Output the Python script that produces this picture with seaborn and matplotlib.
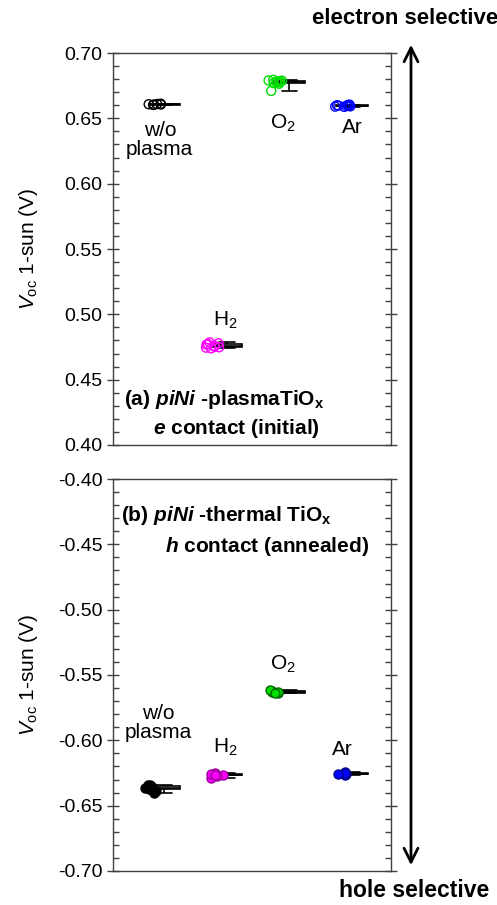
import numpy as np
import pandas as pd
import matplotlib
matplotlib.use("Agg")
import matplotlib.pyplot as plt
import seaborn as sns

# ---------------- data ----------------
groups = ["w/o plasma", "H2", "O2", "Ar"]
group_labels = ["w/o\nplasma", "H$_2$", "O$_2$", "Ar"]
colors = ["#000000", "#FF00FF", "#00DD00", "#0000FF"]
edge_dark = ["#000000", "#990099", "#006600", "#000088"]

# (a) piNi - plasma TiOx, e contact (initial)  [V]
top_wo = [0.6605, 0.6610, 0.6608, 0.6603, 0.6612, 0.6606]
top_h2 = [0.4772, 0.4785, 0.4768, 0.4760, 0.4745, 0.4752, 0.4778, 0.4740, 0.4748]
top_o2 = [0.6785, 0.6790, 0.6778, 0.6795, 0.6782, 0.6770, 0.6788, 0.6775, 0.6710, 0.6765]
top_ar = [0.6595, 0.6600, 0.6590, 0.6598, 0.6605, 0.6592, 0.6588, 0.6596, 0.6602]

# (b) piNi - thermal TiOx, h contact (annealed)  [V]
bot_wo = [-0.6340, -0.6365, -0.6385, -0.6405, -0.6375, -0.6355, -0.6350, -0.6360, -0.6345, -0.6370]
bot_h2 = [-0.6250, -0.6262, -0.6270, -0.6285, -0.6255, -0.6265]
bot_o2 = [-0.5620, -0.5632, -0.5640, -0.5615, -0.5628, -0.5635]
bot_ar = [-0.6245, -0.6255, -0.6262, -0.6250, -0.6258]

top_ticks = [0.40, 0.45, 0.50, 0.55, 0.60, 0.65, 0.70]
bot_ticks = [-0.70, -0.65, -0.60, -0.55, -0.50, -0.45, -0.40]

# ---------------- style ----------------
sns.set_style("ticks")
plt.rcParams["font.family"] = ["Liberation Sans", "DejaVu Sans"]
plt.rcParams["font.size"] = 15
plt.rcParams["text.color"] = "black"
plt.rcParams["axes.labelcolor"] = "black"
plt.rcParams["axes.unicode_minus"] = False
plt.rcParams["mathtext.fontset"] = "custom"
plt.rcParams["mathtext.rm"] = "Liberation Sans"
plt.rcParams["mathtext.it"] = "Liberation Sans:italic"
plt.rcParams["mathtext.bf"] = "Liberation Sans:bold"
try:
    plt.rcParams["mathtext.bfit"] = "Liberation Sans:bold:italic"
except KeyError:
    pass

np.random.seed(3)

positions = [1, 2, 3, 4]
strip_off = -0.08
box_off = 0.10


def make_df(series):
    rows = []
    for g, p, vals in zip(groups, positions, series):
        for v in vals:
            rows.append({"group": g, "pos": p + strip_off, "bpos": p + box_off, "v": v})
    return pd.DataFrame(rows)


fig = plt.figure(figsize=(4.97, 9.05), dpi=100)
ax1 = fig.add_axes([0.227, 0.5083, 0.5594, 0.4331])
ax2 = fig.add_axes([0.227, 0.0376, 0.5594, 0.4331])

panels = [
    (ax1, make_df([top_wo, top_h2, top_o2, top_ar]), True, (0.40, 0.70), top_ticks),
    (ax2, make_df([bot_wo, bot_h2, bot_o2, bot_ar]), False, (-0.70, -0.40), bot_ticks),
]

for ax, df, hollow, ylim, ticks in panels:
    sns.boxplot(data=df, x="bpos", y="v", native_scale=True, width=0.5,
                color="white", linecolor="black", linewidth=1.2,
                whis=(0, 100), showfliers=False, ax=ax)
    for g, c, ec in zip(groups, colors, edge_dark):
        sub = df[df["group"] == g]
        if hollow:
            sns.stripplot(data=sub, x="pos", y="v", native_scale=True, jitter=0.16,
                          ax=ax, size=6.5, marker="o", facecolor="none",
                          edgecolor=c, linewidth=1.0, color=c, zorder=4)
        else:
            sns.stripplot(data=sub, x="pos", y="v", native_scale=True, jitter=0.16,
                          ax=ax, size=6.5, marker="o", color=c,
                          edgecolor=ec, linewidth=1.0, zorder=4)
    ax.set_xlim(0.28, 4.72)
    ax.set_ylim(*ylim)
    ax.set_yticks(ticks)
    ax.set_yticklabels([f"{t:.2f}" for t in ticks])
    ax.yaxis.set_minor_locator(matplotlib.ticker.MultipleLocator(0.01))
    ax.set_xticks([])
    ax.set_xlabel("")
    ax.set_ylabel(r"$V_{\mathrm{oc}}$ 1-sun (V)", fontsize=15)
    ax.yaxis.set_label_coords(-0.263, 0.5)
    ax.tick_params(axis="y", which="major", direction="inout", length=8,
                   width=1, color="#404040", left=True, right=True,
                   labelsize=14, labelcolor="black")
    ax.tick_params(axis="y", which="minor", direction="in", length=4,
                   width=1, color="#404040", left=True, right=True)
    for s in ax.spines.values():
        s.set_visible(True)
        s.set_color("#404040")
        s.set_linewidth(1.0)

# group labels
top_lab = [(1.03, 0.6334), (2.07, 0.4956), (2.99, 0.6464), (4.10, 0.6433)]
bot_lab = [(1.00, -0.5868), (2.08, -0.605), (3.00, -0.5417), (3.95, -0.6067)]
for (x, y), t in zip(top_lab, group_labels):
    ax1.text(x, y, t, ha="center", va="center", fontsize=15, linespacing=0.95)
for (x, y), t in zip(bot_lab, group_labels):
    ax2.text(x, y, t, ha="center", va="center", fontsize=15, linespacing=0.95)

# panel titles
ax1.text(0.04, 0.115, r"(a) $\mathbfit{piNi}$ -plasmaTiO$_\mathbf{x}$",
         transform=ax1.transAxes, fontsize=15, fontweight="bold", va="center", ha="left")
ax1.text(0.144, 0.043, r"$\mathbfit{e}$ contact (initial)",
         transform=ax1.transAxes, fontsize=15, fontweight="bold", va="center", ha="left")
ax2.text(0.029, 0.908, r"(b) $\mathbfit{piNi}$ -thermal TiO$_\mathbf{x}$",
         transform=ax2.transAxes, fontsize=15, fontweight="bold", va="center", ha="left")
ax2.text(0.187, 0.829, r"$\mathbfit{h}$ contact (annealed)",
         transform=ax2.transAxes, fontsize=15, fontweight="bold", va="center", ha="left")

# selectivity arrow
ax_x = 411 / 497
fig.patches.append(matplotlib.patches.FancyArrowPatch(
    (ax_x, 1 - 868 / 905), (ax_x, 1 - 42 / 905), transform=fig.transFigure,
    arrowstyle="<->,head_length=10,head_width=5", lw=2, color="black",
    mutation_scale=1))
fig.text(405 / 497, 1 - 18 / 905, "electron selective", ha="center", va="center",
         fontsize=16, fontweight="bold")
fig.text(414 / 497, 1 - 890 / 905, "hole selective", ha="center", va="center",
         fontsize=16.5, fontweight="bold")

fig.savefig("out.png", dpi=100)
